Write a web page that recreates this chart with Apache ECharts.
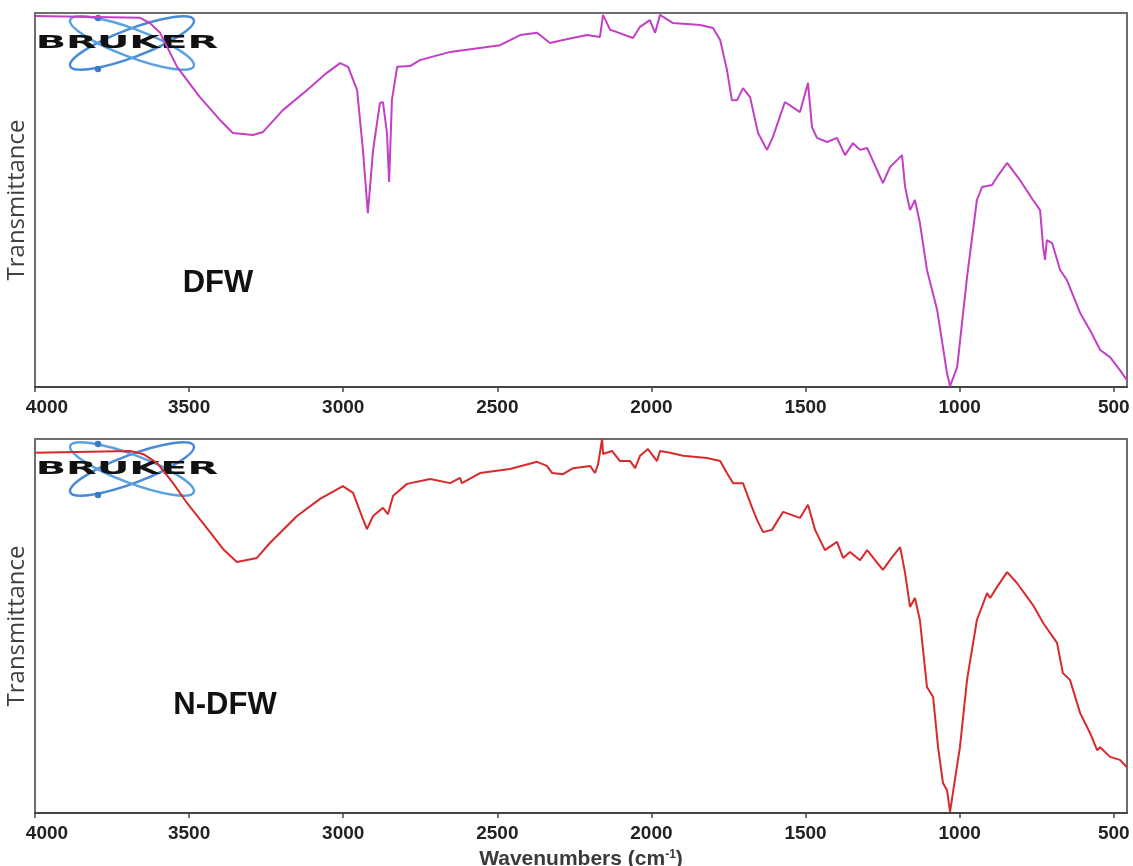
<!DOCTYPE html>
<html>
<head>
<meta charset="utf-8">
<title>FTIR spectra DFW / N-DFW</title>
<script src="https://cdn.jsdelivr.net/npm/echarts@6/dist/echarts.min.js"></script>
<style>
  html, body { margin: 0; padding: 0; background: #fff; }
  #chart { width: 1133px; height: 866px; }
</style>
</head>
<body>
<div id="chart"></div>
<script>
// Wavenumber tick labels (cm-1), high to low
const xTicks = [4000, 3500, 3000, 2500, 2000, 1500, 1000, 500];

// DFW spectrum: wavenumber (cm-1) and relative transmittance (%)
const dfwWavenumber = [4000, 3659, 3627, 3594, 3539, 3465, 3400, 3358, 3293, 3260, 3195, 3117, 3053, 3010, 2984, 2955, 2936, 2920, 2903, 2881, 2871, 2858, 2851, 2842, 2825, 2783, 2751, 2653, 2491, 2426, 2371, 2329, 2287, 2209, 2167, 2157, 2134, 2112, 2060, 2037, 2005, 1988, 1972, 1930, 1842, 1800, 1777, 1755, 1739, 1722, 1703, 1680, 1654, 1625, 1606, 1567, 1518, 1492, 1479, 1463, 1430, 1398, 1372, 1346, 1323, 1300, 1249, 1226, 1187, 1177, 1161, 1145, 1129, 1106, 1073, 1041, 1031, 1008, 976, 944, 927, 895, 879, 846, 804, 762, 739, 729, 723, 717, 700, 674, 652, 609, 577, 544, 512, 480, 458];
const dfwTransmittance = [99.2, 98.7, 97.3, 94.7, 85.6, 77.5, 71.4, 67.9, 67.4, 68.2, 74.1, 79.4, 84.0, 86.6, 85.6, 79.4, 63.4, 46.5, 63.4, 75.9, 76.2, 67.9, 54.8, 76.7, 85.6, 85.8, 87.4, 89.6, 91.4, 94.1, 94.7, 92.0, 92.8, 94.1, 93.6, 99.5, 95.5, 94.9, 93.3, 96.3, 98.1, 94.7, 99.5, 97.3, 96.8, 96.0, 92.8, 84.8, 76.7, 76.7, 79.9, 77.5, 67.9, 63.4, 66.8, 76.2, 73.5, 81.3, 69.5, 66.6, 65.5, 66.6, 62.0, 65.2, 63.4, 63.9, 54.5, 58.8, 62.0, 53.5, 47.3, 50.0, 43.9, 31.3, 20.6, 3.7, 0.2, 5.3, 29.4, 50.0, 53.5, 54.0, 56.1, 59.9, 55.3, 50.0, 47.3, 37.4, 34.0, 39.3, 38.5, 31.3, 28.6, 19.8, 15.2, 9.9, 8.0, 4.5, 1.9];

// N-DFW spectrum: wavenumber (cm-1) and relative transmittance (%)
const ndfwWavenumber = [4000, 3692, 3650, 3604, 3552, 3507, 3455, 3390, 3345, 3280, 3238, 3150, 3075, 3001, 2968, 2936, 2923, 2903, 2871, 2855, 2838, 2793, 2718, 2653, 2621, 2615, 2556, 2459, 2371, 2339, 2322, 2287, 2254, 2199, 2183, 2173, 2160, 2157, 2128, 2102, 2069, 2053, 2037, 2011, 1982, 1972, 1940, 1897, 1820, 1777, 1755, 1735, 1703, 1674, 1657, 1638, 1609, 1573, 1518, 1492, 1469, 1437, 1398, 1378, 1356, 1323, 1300, 1249, 1219, 1193, 1177, 1161, 1145, 1129, 1106, 1086, 1070, 1054, 1041, 1031, 1022, 999, 976, 944, 911, 901, 879, 846, 814, 762, 729, 684, 665, 642, 609, 577, 554, 544, 512, 480, 458];
const ndfwTransmittance = [96.3, 96.8, 96.0, 93.6, 88.2, 82.9, 77.5, 70.6, 67.1, 68.2, 72.2, 79.4, 84.0, 87.4, 85.6, 78.6, 75.9, 79.4, 81.6, 79.9, 84.8, 88.0, 89.3, 88.2, 89.6, 88.2, 90.9, 92.0, 93.9, 92.8, 90.9, 90.6, 92.2, 92.8, 90.9, 93.3, 100.0, 96.0, 96.8, 94.1, 94.1, 92.2, 95.5, 97.3, 94.1, 96.8, 96.3, 95.5, 94.9, 94.1, 90.9, 88.2, 88.2, 81.8, 78.3, 75.1, 75.7, 80.5, 78.9, 82.4, 75.7, 70.3, 72.5, 68.2, 69.8, 67.6, 70.3, 65.0, 68.4, 71.1, 64.2, 55.1, 57.5, 51.6, 33.7, 31.0, 17.6, 8.0, 6.1, 0.3, 5.3, 17.6, 35.6, 51.6, 58.8, 57.5, 60.4, 64.4, 61.5, 55.6, 50.8, 45.5, 37.4, 35.6, 26.7, 21.4, 16.8, 17.6, 15.0, 14.2, 12.3];

const panelNames = ['DFW', 'N-DFW'];
const lineColors = ['#c23fc6', '#d82a2a'];

const pairs = (xs, ys) => xs.map((x, i) => [x, ys[i]]);

const chart = echarts.init(document.getElementById('chart'), null, { renderer: 'canvas' });

const gridTops = [13, 439];
const gridHeight = 374;

function makeXAxis(idx) {
  const ax = {
    type: 'value',
    gridIndex: idx,
    inverse: true,
    min: 457,
    max: 4000,
    axisLine: { show: true, onZero: false, lineStyle: { color: '#454545', width: 2 } },
    axisTick: { show: true, customValues: xTicks, length: 5, inside: false, lineStyle: { color: '#454545', width: 1.5 } },
    axisLabel: {
      customValues: xTicks,
      margin: 11,
      fontFamily: 'Liberation Sans',
      fontWeight: 'bold',
      fontSize: 19,
      color: '#222',
      formatter: v => (v === 4000 ? '{first|4000}' : String(v)),
      rich: {
        first: { padding: [0, 0, 0, 24], fontFamily: 'Liberation Sans', fontWeight: 'bold', fontSize: 19, color: '#222' }
      }
    },
    splitLine: { show: false }
  };
  if (idx === 1) {
    ax.name = 'Wavenumbers (cm{sup|-1})';
    ax.nameLocation = 'middle';
    ax.nameGap = 36;
    ax.nameTextStyle = {
      fontFamily: 'Liberation Sans', fontWeight: 'bold', fontSize: 21, color: '#3a3a3a',
      rich: {
        sup: { fontFamily: 'Liberation Sans', fontWeight: 'bold', fontSize: 12, color: '#3a3a3a', verticalAlign: 'top', lineHeight: 14 }
      }
    };
  }
  return ax;
}

function makeYAxis(idx) {
  return {
    type: 'value',
    gridIndex: idx,
    min: 0,
    max: 100,
    axisLine: { show: false },
    axisTick: { show: false },
    axisLabel: { show: false },
    splitLine: { show: false },
    name: 'Transmittance',
    nameLocation: 'middle',
    nameGap: 6,
    nameTextStyle: { fontFamily: 'Open Sans', fontSize: 24, color: '#404040' }
  };
}

// Bruker atom logo: two crossed orbits, two electrons, wide lettering
function brukerLogo(cx, cy) {
  const orbit = '#4a8ad6';
  return {
    type: 'group',
    z: 0,
    children: [
      { type: 'ellipse', x: cx + 2, y: cy, rotation: 0.36, shape: { cx: 0, cy: 0, rx: 66, ry: 14 }, style: { fill: 'none', stroke: orbit, lineWidth: 2.5 } },
      { type: 'ellipse', x: cx + 2, y: cy, rotation: -0.36, shape: { cx: 0, cy: 0, rx: 66, ry: 14 }, style: { fill: 'none', stroke: '#5aa2e2', lineWidth: 2.5 } },
      { type: 'circle', shape: { cx: cx - 32, cy: cy - 25, r: 3.2 }, style: { fill: '#3a78c8' } },
      { type: 'circle', shape: { cx: cx - 32, cy: cy + 26, r: 3.2 }, style: { fill: '#3a78c8' } },
      {
        type: 'text', x: cx - 3, y: cy + 0.5, scaleX: 2.35, scaleY: 1.05,
        style: { text: 'BRUKER', font: '900 17px "DejaVu Sans"', fill: '#111', align: 'center', verticalAlign: 'middle' }
      }
    ]
  };
}

const option = {
  backgroundColor: '#ffffff',
  animation: false,
  grid: gridTops.map(t => ({
    left: 35, right: 6, top: t, height: gridHeight,
    containLabel: false, outerBoundsMode: 'none',
    show: true, borderColor: '#6e6e6e', borderWidth: 2, backgroundColor: 'transparent'
  })),
  xAxis: [makeXAxis(0), makeXAxis(1)],
  yAxis: [makeYAxis(0), makeYAxis(1)],
  series: [
    {
      name: panelNames[0], type: 'line', xAxisIndex: 0, yAxisIndex: 0, z: 5,
      data: pairs(dfwWavenumber, dfwTransmittance),
      showSymbol: false, smooth: false,
      lineStyle: { color: lineColors[0], width: 2 }
    },
    {
      name: panelNames[1], type: 'line', xAxisIndex: 1, yAxisIndex: 1, z: 5,
      data: pairs(ndfwWavenumber, ndfwTransmittance),
      showSymbol: false, smooth: false,
      lineStyle: { color: lineColors[1], width: 2 }
    }
  ],
  graphic: [
    brukerLogo(130, 43),
    brukerLogo(130, 469),
    { type: 'text', x: 218, y: 283, style: { text: panelNames[0], font: 'bold 31px "Liberation Sans"', fill: '#111', align: 'center', verticalAlign: 'middle' } },
    { type: 'text', x: 225, y: 705, style: { text: panelNames[1], font: 'bold 31px "Liberation Sans"', fill: '#111', align: 'center', verticalAlign: 'middle' } }
  ]
};

chart.setOption(option);
</script>
</body>
</html>
